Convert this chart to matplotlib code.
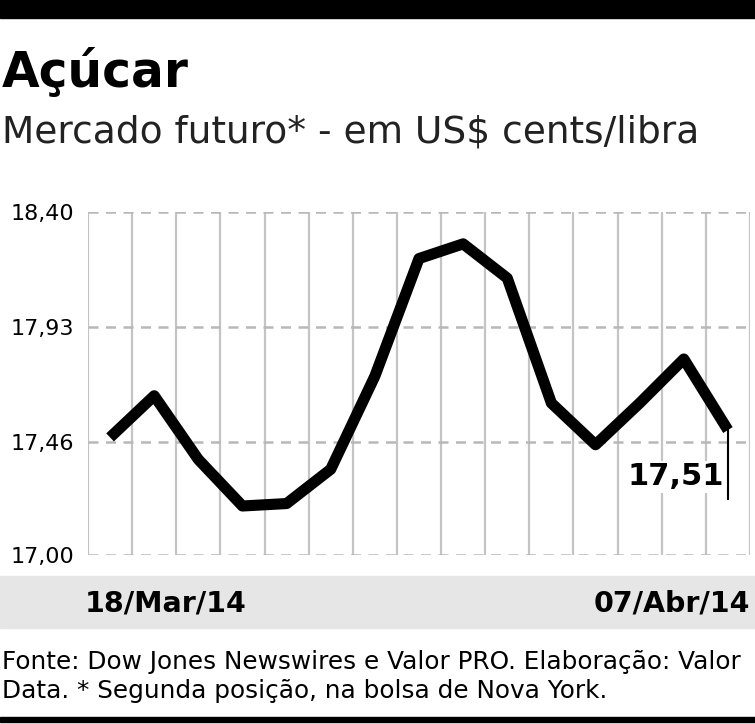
import matplotlib
matplotlib.use("Agg")
import matplotlib.pyplot as plt
import numpy as np

values = [17.48, 17.65, 17.39, 17.20, 17.21, 17.35, 17.73, 18.21, 18.27, 18.13, 17.62, 17.45, 17.62, 17.80, 17.51]
yticks = [17.00, 17.46, 17.93, 18.40]
ytick_labels = ["17,00", "17,46", "17,93", "18,40"]
first_label, last_label = "18/Mar/14", "07/Abr/14"
last_value_label = "17,51"

W, H = 755, 724
fig = plt.figure(figsize=(W/100, H/100), dpi=100)
fig.patch.set_facecolor("white")

def fx(px): return px / W
def fy(py): return 1 - py / H

fig.add_artist(plt.Rectangle((0, fy(18)), 1, 18/H, color="black", transform=fig.transFigure))
fig.add_artist(plt.Rectangle((0, fy(722)), 1, 5/H, color="black", transform=fig.transFigure))
fig.add_artist(plt.Rectangle((0, fy(628)), 1, 52/H, color="#e6e6e6", transform=fig.transFigure, zorder=0))

fig.text(fx(2), fy(72), "Açúcar", fontsize=35, fontweight="bold", va="center", ha="left")
fig.text(fx(2), fy(133), "Mercado futuro* - em US$ cents/libra", fontsize=27, va="center", ha="left", color="#222222")

ax = fig.add_axes([fx(88), fy(555), (750-88)/W, (555-212)/H])
x = np.arange(len(values))
ax.set_xlim(-0.5, len(values) - 0.5)
ax.set_ylim(17.00, 18.40)
for xv in np.arange(-0.5, len(values), 1.0):
    ax.axvline(xv, color="#c4c4c4", lw=1.6, zorder=1)
for yv in yticks:
    ax.axhline(yv, color="#b8b8b8", lw=1.8, ls=(0, (4, 3)), zorder=1)
ax.plot(x, values, color="black", lw=8, solid_joinstyle="round", solid_capstyle="butt", zorder=3)
for s in ax.spines.values():
    s.set_visible(False)
ax.set_xticks([])
ax.set_yticks(yticks)
ax.set_yticklabels(ytick_labels, fontsize=16)
ax.tick_params(axis="y", length=0, pad=10)
ax.set_facecolor("none")

ax.plot([x[-1], x[-1]], [values[-1], 17.23], color="black", lw=1.5, zorder=2)
ax.text(x[-1] - 0.1, 17.32, last_value_label, fontsize=22, fontweight="bold",
        ha="right", va="center", bbox=dict(facecolor="white", edgecolor="none", pad=1))

fig.text(fx(85), fy(603), first_label, fontsize=20.5, fontweight="bold", va="center", ha="left")
fig.text(fx(750), fy(603), last_label, fontsize=20.5, fontweight="bold", va="center", ha="right")

fig.text(fx(2), fy(662), "Fonte: Dow Jones Newswires e Valor PRO. Elaboração: Valor", fontsize=17.8, va="center", ha="left")
fig.text(fx(2), fy(691), "Data. * Segunda posição, na bolsa de Nova York.", fontsize=17.8, va="center", ha="left")

fig.savefig("out.png", dpi=100)
